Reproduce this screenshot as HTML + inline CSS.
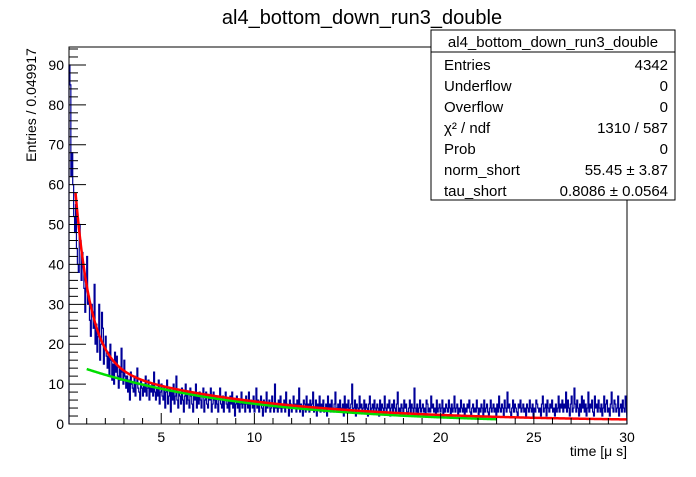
<!DOCTYPE html>
<html><head><meta charset="utf-8"><style>
body{margin:0;background:#fff;font-family:"Liberation Sans",sans-serif}
svg text{font-family:"Liberation Sans",sans-serif}
</style></head><body>
<svg id="c" width="696" height="472" viewBox="0 0 696 472">
<rect width="696" height="472" fill="#fff"/>
<text x="362" y="24" font-size="20" text-anchor="middle">al4_bottom_down_run3_double</text>
<g id="plot"></g>
<rect x="69" y="47" width="558" height="377" fill="none" stroke="#000" stroke-width="1"/>
<g id="axes"></g>
<text x="627" y="456" font-size="14" text-anchor="end">time [μ s]</text>
<text transform="translate(36,105) rotate(-90)" font-size="14" text-anchor="middle">Entries / 0.049917</text>
<g>
<rect x="431" y="30" width="244" height="170" fill="#fff" stroke="#000"/>
<line x1="431" y1="52" x2="675" y2="52" stroke="#000"/>
<text x="553" y="47" font-size="15" text-anchor="middle">al4_bottom_down_run3_double</text>
<text x="444" y="70" font-size="15">Entries</text><text x="668" y="70" font-size="15" text-anchor="end">4342</text>
<text x="444" y="91" font-size="15">Underflow</text><text x="668" y="91" font-size="15" text-anchor="end">0</text>
<text x="444" y="112" font-size="15">Overflow</text><text x="668" y="112" font-size="15" text-anchor="end">0</text>
<text x="444" y="133" font-size="15">χ² / ndf</text><text x="668" y="133" font-size="15" text-anchor="end">1310 / 587</text>
<text x="444" y="154" font-size="15">Prob</text><text x="668" y="154" font-size="15" text-anchor="end">0</text>
<text x="444" y="175" font-size="15">norm_short</text><text x="668" y="175" font-size="15" text-anchor="end">55.45 ± 3.87</text>
<text x="444" y="196" font-size="15">tau_short</text><text x="668" y="196" font-size="15" text-anchor="end">0.8086 ± 0.0564</text>
</g>
</svg>
<script>
const xRange=[0.05,30];
const yRange=[0,94.5];
const binWidth=0.049917;
const counts=[90,85,62,68,60,52,48,55,44,40,38,50,46,36,43,40,34,28,35,42,30,
32,26,22,30,28,24,35,20,25,18,22,30,16,20,28,24,15,19,22,17,
14,18,12,20,16,11,15,10,18,13,17,12,9,14,11,19,13,10,16,12,
9,12,8,11,6,13,10,9,8,12,7,10,14,9,8,6,11,9,7,10,
8,12,7,9,11,6,9,8,10,7,13,8,6,9,7,11,5,8,10,7,
6,9,4,8,11,5,7,9,3,8,6,10,5,7,12,6,4,8,7,5,9,6,3,7,10,5,8,6,4,9,7,5,3,8,6,10,4,7,5,8,
6,4,7,9,3,6,8,5,4,7,6,9,3,5,8,6,4,7,5,3,6,9,5,4,7,3,6,8,5,4,6,3,7,5,8,4,6,2,5,7,4,6,3,5,8,4,6,5,3,7,
5,4,8,3,6,5,4,7,3,5,9,4,6,3,5,7,4,2,6,5,3,8,4,5,6,3,4,7,5,3,10,4,5,3,6,4,7,3,5,4,6,3,8,5,4,2,6,5,3,4,
7,4,5,3,6,4,9,3,5,4,2,6,5,3,7,4,5,3,6,4,5,8,3,4,6,2,5,4,7,3,5,4,6,3,4,5,2,7,4,5,3,6,4,3,5,8,4,3,5,4,
6,3,4,5,2,7,3,5,4,6,3,4,5,10,3,4,6,2,5,4,3,7,4,5,3,4,6,3,5,4,2,5,7,3,4,5,3,6,4,3,5,4,2,6,3,5,4,3,7,4,
3,5,4,6,2,4,5,3,6,4,3,5,8,3,4,2,5,4,3,6,4,5,3,2,4,6,3,5,4,3,9,4,3,5,2,4,6,3,4,5,3,4,2,6,5,3,4,3,7,4,
5,3,4,2,6,3,4,5,3,4,6,2,4,3,5,4,3,6,4,2,5,3,4,7,3,4,5,2,4,3,6,4,3,5,2,4,3,5,4,6,3,2,4,5,3,4,3,6,4,2,
4,3,5,4,2,6,3,4,5,3,2,4,6,3,4,5,3,4,2,5,3,7,4,3,5,4,2,6,4,3,8,4,5,3,2,4,6,3,5,4,3,2,5,4,6,3,4,5,3,4,
2,5,4,3,6,4,3,5,2,4,3,6,5,4,3,4,2,5,7,3,4,5,2,6,4,3,5,4,6,3,4,2,5,3,4,7,3,5,4,6,
3,5,4,8,3,6,4,2,5,7,3,4,9,5,3,6,4,2,5,3,7,4,6,3,5,2,4,8,3,5,4,6,3,2,7,4,5,3,6,4,
3,5,2,4,7,3,5,6,3,4,2,5,8,4,3,6,5,3,4,7,2,4,5,3,6,4,3,7];
const fitShort=[70,0.8086];
const fitLong=[15.4,9.0];
const fitConst=[0.6];
const redRange=[0.4,30];
const greenRange=[1.0,23];
const yTicks=[0,10,20,30,40,50,60,70,80,90];
const xTicks=[5,10,15,20,25,30];
const L=69,R=627,T=47,B=424,NS="http://www.w3.org/2000/svg";
function X(v){return L+(v-xRange[0])/(xRange[1]-xRange[0])*(R-L);}
function Y(v){return B-(v-yRange[0])/(yRange[1]-yRange[0])*(B-T);}
const plot=document.getElementById('plot'),axes=document.getElementById('axes');
function mk(tag,attrs,parent){const e=document.createElementNS(NS,tag);for(const k in attrs)e.setAttribute(k,attrs[k]);parent.appendChild(e);return e;}
let d="M"+X(xRange[0])+","+Y(0);
counts.forEach((c,i)=>{const x0=X(xRange[0]+i*binWidth),x1=X(Math.min(xRange[0]+(i+1)*binWidth,xRange[1]));d+="L"+x0.toFixed(2)+","+Y(c).toFixed(2)+"L"+x1.toFixed(2)+","+Y(c).toFixed(2);});
d+="L"+X(xRange[1])+","+Y(0);
const h=mk('path',{d:d,fill:"none",stroke:"#000099","stroke-width":"1.2"},plot);


function longF(t){return fitLong[0]*Math.exp(-t/fitLong[1]);}
function fullF(t){return fitShort[0]*Math.exp(-t/fitShort[1])+longF(t)+fitConst[0];}
function curve(f,r){let p="";for(let t=r[0];t<=r[1]+1e-9;t+=0.05){p+=(p?"L":"M")+X(t).toFixed(2)+","+Y(Math.min(f(t),yRange[1])).toFixed(2);}return p;}
const g=mk('path',{d:curve(longF,greenRange),fill:"none",stroke:"#00dd00","stroke-width":"2.5"},plot);


const r=mk('path',{d:curve(fullF,redRange),fill:"none",stroke:"#ff0000","stroke-width":"2.5"},plot);


for(let v=0;v<=94;v+=2){const major=v%10===0;const t=mk('line',{x1:L,x2:L+(major?17:9),y1:Y(v),y2:Y(v),stroke:"#000"},axes);

}
yTicks.forEach(v=>{const t=mk('text',{x:L-5,y:Y(v)+5,"font-size":"14","text-anchor":"end"},axes);t.textContent=v;

});
for(let v=1;v<=30;v++){const major=v%5===0;const t=mk('line',{x1:X(v),x2:X(v),y1:B,y2:B-(major?11:6),stroke:"#000"},axes);

}
xTicks.forEach(v=>{const t=mk('text',{x:X(v),y:B+18,"font-size":"14","text-anchor":"middle"},axes);t.textContent=v;

});
</script>
</body></html>
